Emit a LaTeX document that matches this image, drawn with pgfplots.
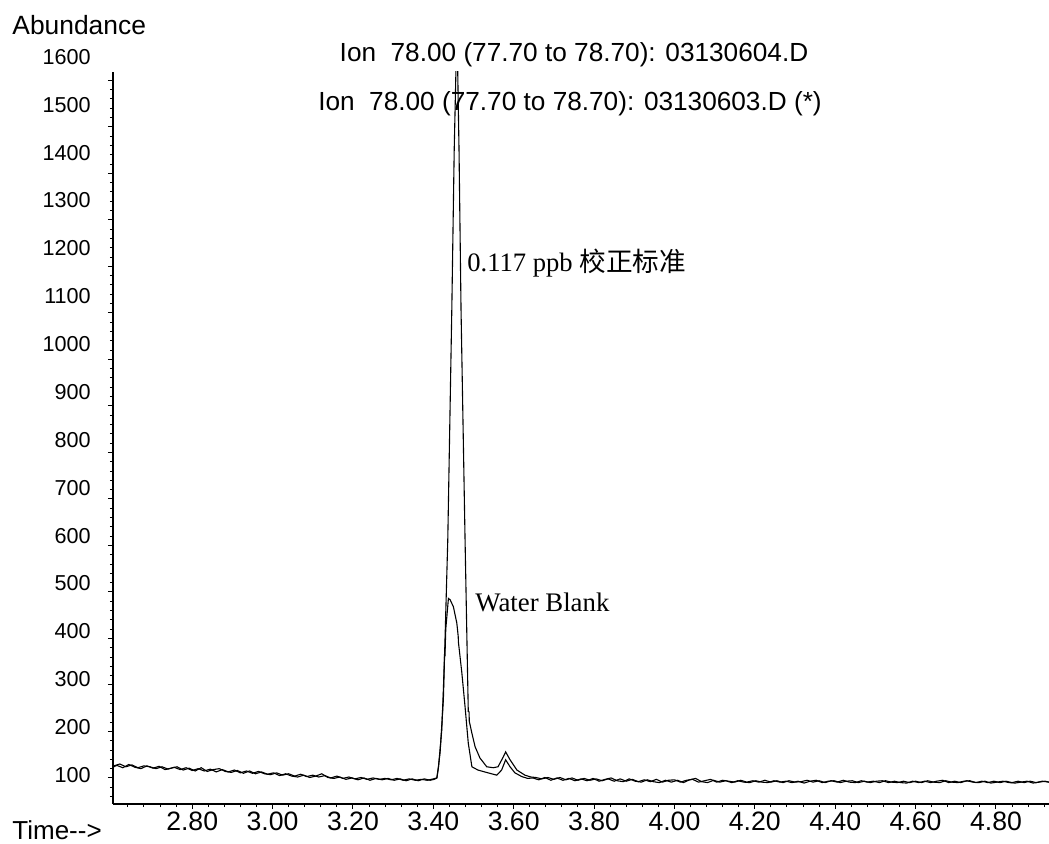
\documentclass[border=0pt]{standalone}
\usepackage{pgfplots}
\pgfplotsset{compat=1.18}
\usepackage{fontspec}
\setmainfont{Liberation Sans}
\newfontfamily\serif{Liberation Serif}
\newfontfamily\cjk{Noto Sans CJK SC}

\begin{document}
\begin{tikzpicture}[x=1pt,y=1pt]
\useasboundingbox (0,0) rectangle (524.5,422);
% titles and labels
\node[anchor=west,inner sep=0pt,font=\fontsize{13.2}{15}\selectfont] at (6,409.5) {Abundance};
\node[anchor=west,inner sep=0pt,font=\fontsize{13}{15}\selectfont] at (6,6.8) {Time-{}->};
\node[inner sep=0pt,font=\fontsize{13.1}{15}\selectfont] at (287,394.5) {Ion\ \ 78.00 (77.70 to 78.70): 03130604.D};
\node[inner sep=0pt,font=\fontsize{13.1}{15}\selectfont] at (285,370.3) {Ion\ \ 78.00 (77.70 to 78.70): 03130603.D (*)};
\node[anchor=west,inner sep=0pt,font=\fontsize{13.3}{15}\selectfont] at (233.5,290.5) {\serif 0.117 ppb \cjk 校正标准};
\node[anchor=west,inner sep=0pt,font=\fontsize{13.4}{15}\selectfont] at (237.5,121) {\serif Water Blank};

% tick-label axis (labels as printed, 48 px per 100)
\begin{axis}[
  at={(56.5pt,20pt)}, anchor=south west,
  scale only axis, width=468pt, height=376pt,
  xmin=0, xmax=1, ymin=39.42, ymax=1610.3,
  hide x axis, axis y line=left,
  axis line style={draw=none},
  ytick={100,200,...,1600},
  tick align=outside, major tick length=2.6pt,
  ytick style={draw=none},
  yticklabel style={font=\fontsize{10.8}{12}\selectfont, xshift=-5pt},
  /pgf/number format/assume math mode=true,
  /pgf/number format/1000 sep={},
]
\end{axis}

\begin{axis}[
  at={(56.5pt,20pt)}, anchor=south west,
  scale only axis, width=468pt, height=366pt,
  xmin=2.603, xmax=4.932, ymin=44, ymax=1618,
  axis x line=bottom, axis y line=left,
  axis line style={-, line width=0.6pt, black},
  xtick={2.8,3.0,3.2,3.4,3.6,3.8,4.0,4.2,4.4,4.6,4.8},
  xticklabels={2.80,3.00,3.20,3.40,3.60,3.80,4.00,4.20,4.40,4.60,4.80},
  minor xtick={2.64,2.68,...,4.93},
  ytick={100,200,...,1600},
  yticklabels={},
  minor ytick={60,80,...,1610},
  tick align=outside,
  major tick length=2.6pt, minor tick length=1.6pt,
  tick style={black, line width=0.5pt},
  xticklabel style={font=\fontsize{13.3}{15}\selectfont, yshift=2pt},
  /pgf/number format/assume math mode=true,
  clip=true,
]
% 0.117 ppb calibration standard (03130604.D)
\addplot[black, line width=0.55pt] coordinates {
(2.605,126)(2.62,130)(2.635,124)(2.65,128)(2.665,122)(2.68,126)(2.695,124)(2.71,120)
(2.725,124)(2.74,119)(2.755,123)(2.77,118)(2.785,122)(2.80,116)(2.815,120)(2.83,115)
(2.845,119)(2.86,113)(2.875,118)(2.89,113)(2.905,117)(2.92,111)(2.935,115)(2.95,110)
(2.965,114)(2.98,109)(2.995,107)(3.01,111)(3.025,106)(3.04,109)(3.055,104)(3.07,108)
(3.085,103)(3.10,106)(3.115,102)(3.13,105)(3.145,100)(3.16,104)(3.175,99)(3.19,102)
(3.205,98)(3.22,101)(3.235,97)(3.25,100)(3.265,97)(3.28,99)(3.295,96)(3.31,99)
(3.325,95)(3.34,98)(3.355,95)(3.37,97)(3.385,95)(3.40,98)
(3.4087,100)(3.4127,124)(3.417,156)(3.425,268)(3.436,612)(3.446,1106)(3.452,1450)
(3.4588,1720)(3.464,1450)(3.469,1106)(3.479,612)(3.487,243)(3.489,242)(3.4895,222)
(3.4958,197)(3.504,167)(3.516,143)(3.533,124)(3.549,122)(3.561,124)(3.574,145)
(3.580,156)(3.591,139)(3.608,117)(3.628,106)(3.643,102)
(3.655,101)(3.67,98)(3.685,101)(3.70,97)(3.715,101)(3.73,96)(3.745,100)(3.76,95)
(3.775,99)(3.79,95)(3.805,98)(3.82,94)(3.835,98)(3.85,93)(3.865,98)(3.88,93)
(3.895,97)(3.91,92)(3.925,96)(3.94,92)(3.955,97)(3.97,91)(3.985,95)(4.00,96)
(4.015,91)(4.03,95)(4.045,97)(4.06,91)(4.075,94)(4.09,97)(4.105,91)(4.12,95)
(4.135,93)(4.15,91)(4.165,95)(4.18,91)(4.195,94)(4.21,91)(4.225,95)(4.24,91)
(4.255,94)(4.27,90)(4.285,94)(4.30,91)(4.315,92)(4.33,95)(4.345,91)(4.36,94)
(4.375,90)(4.39,94)(4.405,91)(4.42,95)(4.435,91)(4.45,90)(4.465,94)(4.48,91)
(4.495,93)(4.51,90)(4.525,94)(4.54,91)(4.555,90)(4.57,93)(4.585,90)(4.60,93)
(4.615,90)(4.63,94)(4.645,91)(4.66,90)(4.675,94)(4.69,91)(4.705,90)(4.72,93)
(4.735,94)(4.75,90)(4.765,93)(4.78,90)(4.795,93)(4.81,90)(4.825,93)(4.84,90)
(4.855,93)(4.87,90)(4.885,93)(4.90,90)(4.915,93)(4.932,91)
};
% Water blank (03130603.D)
\addplot[black, line width=0.55pt] coordinates {
(2.605,124)(2.6125,127)(2.6275,122)(2.6425,129)(2.6575,123)(2.6725,120)(2.6875,126)
(2.7025,121)(2.7175,125)(2.7325,118)(2.7475,121)(2.7625,124)(2.7775,117)(2.7925,121)
(2.8075,115)(2.8225,122)(2.8375,114)(2.8525,118)(2.8675,120)(2.8825,114)(2.8975,112)
(2.9125,116)(2.9275,110)(2.9425,115)(2.9575,109)(2.9725,113)(2.9875,108)(3.0025,111)
(3.0175,105)(3.0325,109)(3.0475,104)(3.0625,102)(3.0775,106)(3.0925,101)(3.1075,104)
(3.1225,109)(3.1375,101)(3.1525,99)(3.1675,102)(3.1825,97)(3.1975,100)(3.2125,96)
(3.2275,100)(3.2425,95)(3.2575,99)(3.2725,96)(3.2875,99)(3.3025,95)(3.3175,98)
(3.3325,94)(3.3475,98)(3.3625,94)(3.3775,98)(3.3925,95)(3.402,97)
(3.409,100)(3.413,124)(3.421,203)(3.425,289)(3.4285,380)(3.429,362)(3.431,420)
(3.4376,486)(3.442,483)(3.450,468)(3.4585,433)(3.462,404)(3.4625,392)(3.471,326)
(3.479,253)(3.487,175)(3.496,124)(3.511,117)(3.536,111)(3.558,106)(3.570,117)
(3.580,139)(3.591,124)(3.603,111)(3.620,103)(3.635,99)(3.6475,100)
(3.6625,96)(3.6775,101)(3.6925,95)(3.7075,100)(3.7225,95)(3.7375,99)(3.7525,94)
(3.7675,98)(3.7825,94)(3.7975,99)(3.8125,93)(3.8275,97)(3.8425,100)(3.8575,94)
(3.8725,92)(3.8875,98)(3.9025,93)(3.9175,91)(3.9325,96)(3.9475,92)(3.9625,90)
(3.9775,95)(3.9925,91)(4.0075,95)(4.0225,90)(4.0375,96)(4.0525,99)(4.0675,92)
(4.0825,90)(4.0975,95)(4.1125,91)(4.1275,94)(4.1425,90)(4.1575,94)(4.1725,91)
(4.1875,90)(4.2025,94)(4.2175,91)(4.2325,90)(4.2475,94)(4.2625,91)(4.2775,93)
(4.2925,90)(4.3075,93)(4.3225,89)(4.3375,93)(4.3525,95)(4.3675,90)(4.3825,93)
(4.3975,94)(4.4125,90)(4.4275,93)(4.4425,94)(4.4575,90)(4.4725,93)(4.4875,90)
(4.5025,93)(4.5175,94)(4.5325,90)(4.5475,93)(4.5625,90)(4.5775,89)(4.5925,93)
(4.6075,90)(4.6225,93)(4.6375,90)(4.6525,93)(4.6675,95)(4.6825,90)(4.6975,93)
(4.7125,90)(4.7275,94)(4.7425,91)(4.7575,90)(4.7725,93)(4.7875,89)(4.8025,91)
(4.8175,93)(4.8325,90)(4.8475,89)(4.8625,91)(4.8775,93)(4.8925,89)(4.9075,91)
(4.9225,93)(4.932,91)
};
\end{axis}
\end{tikzpicture}
\end{document}
